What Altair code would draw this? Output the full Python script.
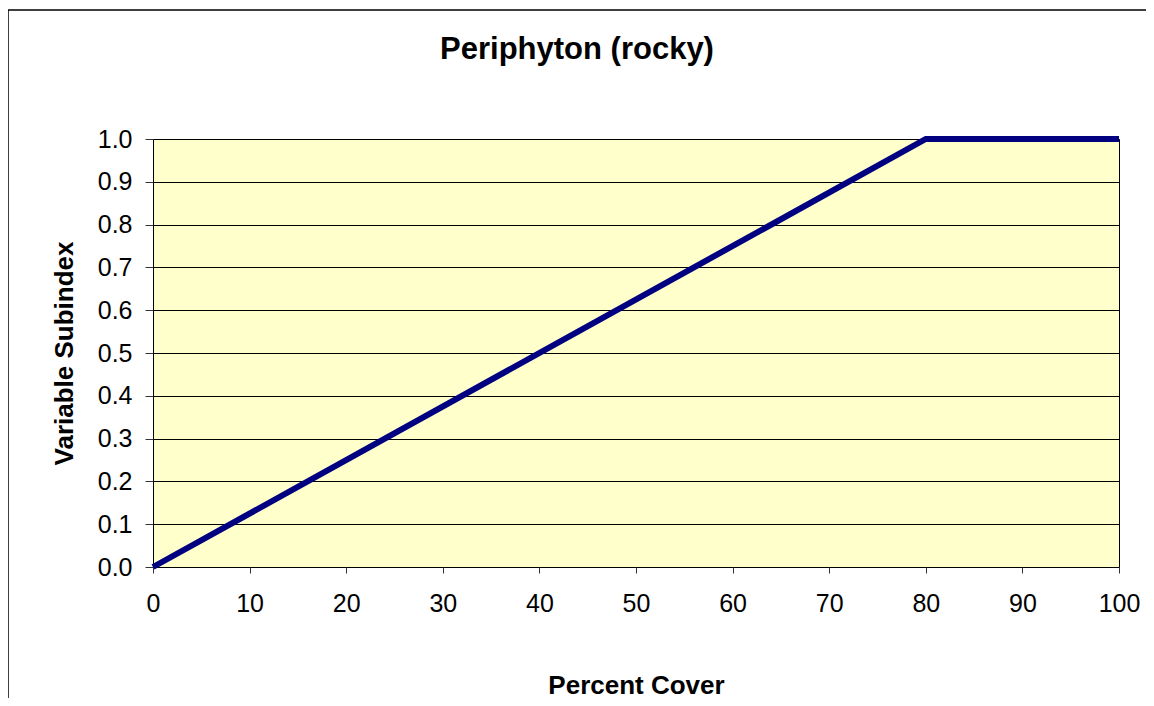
import altair as alt
import pandas as pd

# Data
percent_cover = [0, 80, 100]
subindex = [0.0, 1.0, 1.0]
x_ticks = [0, 10, 20, 30, 40, 50, 60, 70, 80, 90, 100]
y_ticks = [0.0, 0.1, 0.2, 0.3, 0.4, 0.5, 0.6, 0.7, 0.8, 0.9, 1.0]

df = pd.DataFrame({"Percent Cover": percent_cover, "Variable Subindex": subindex})

FONT = "Liberation Sans"

line = alt.Chart(df).mark_line(color="#000080", strokeWidth=6, strokeCap="butt", clip=False).encode(
    x=alt.X("Percent Cover:Q",
            scale=alt.Scale(domain=[0, 100], nice=False, zero=True),
            axis=alt.Axis(values=x_ticks, title="Percent Cover", grid=False, domain=False,
                          tickSize=6, tickColor="#333333", labelPadding=18, labelFlush=False,
                          labelFontSize=25, labelFont=FONT, labelColor="#000000",
                          titleFont=FONT, titleFontSize=26, titleFontWeight="bold",
                          titleColor="#000000", titlePadding=56)),
    y=alt.Y("Variable Subindex:Q",
            scale=alt.Scale(domain=[0, 1], nice=False),
            axis=alt.Axis(values=y_ticks, format=".1f", title="Variable Subindex",
                          grid=True, gridColor="#000000", gridWidth=1, domain=False,
                          tickSize=8, tickColor="#333333", labelPadding=13, labelFlush=False,
                          labelFontSize=25, labelFont=FONT, labelColor="#000000",
                          titleFont=FONT, titleFontSize=26, titleFontWeight="bold",
                          titleColor="#000000", titlePadding=20)),
)

border = alt.Chart(pd.DataFrame({"b": [0]})).mark_rect(
    fill="transparent", stroke="#000000", strokeWidth=1.5, clip=False
).encode(
    x=alt.value(-145), x2=alt.value(1010), y=alt.value(-129), y2=alt.value(620)
)

chart = alt.layer(border, line).properties(
    width=966,
    height=428,
    title=alt.TitleParams("Periphyton (rocky)", font=FONT, fontSize=31, fontWeight="bold",
                          color="#000000", anchor="middle", offset=-57, dx=-59),
    autosize=alt.AutoSizeParams(type="none"),
    padding={"left": 145, "top": 131, "right": 27, "bottom": 131},
    background="#FFFFFF",
).configure_view(
    fill="#FFFFCC", stroke="#000000", strokeWidth=1
)

chart.save("out.html", embed_options={"renderer": "svg", "actions": False})
